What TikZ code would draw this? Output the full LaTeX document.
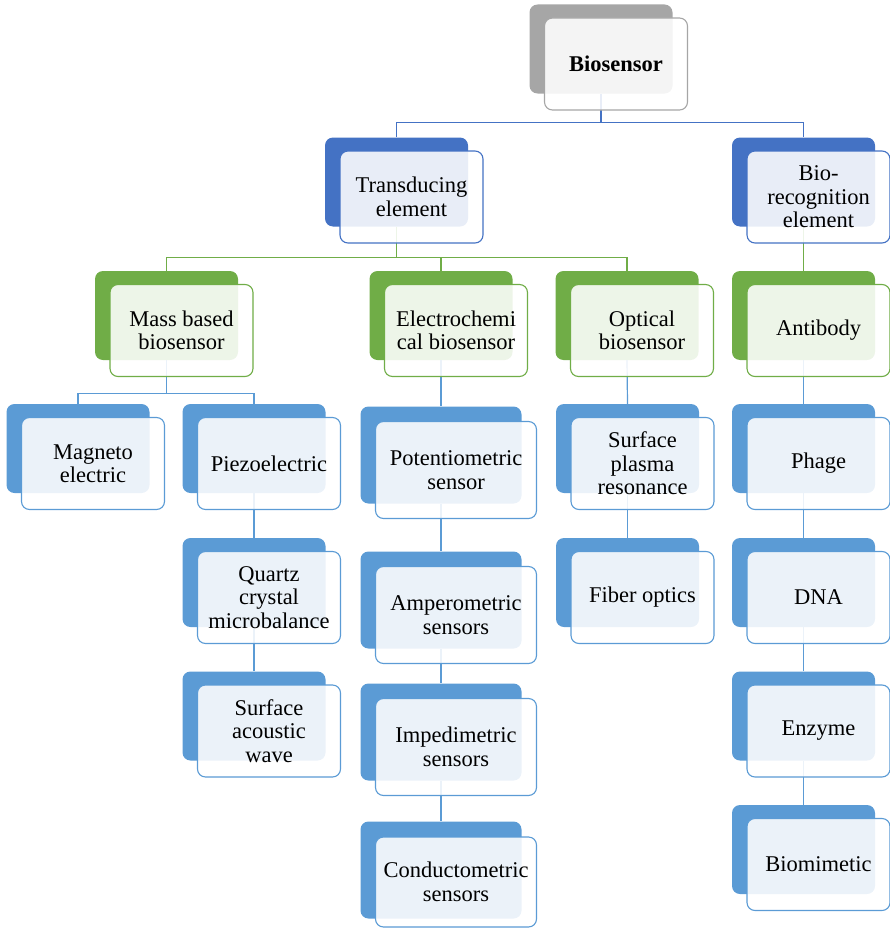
\documentclass[tikz,border=0pt]{standalone}
\usepackage{fontspec}
\setmainfont{Liberation Serif}
\usepackage{tikz}
\usetikzlibrary{calc}
\definecolor{cGray}{RGB}{166,166,166}
\definecolor{cDark}{RGB}{68,114,196}
\definecolor{cGreen}{RGB}{112,173,71}
\definecolor{cLight}{RGB}{91,155,213}
\newcommand{\boxfont}{\fontsize{22.5}{23.5}\selectfont}

\begin{document}
\begin{tikzpicture}[x=1pt, y=-1pt,
  plate/.style={rounded corners=8pt, fill=#1, minimum width=143pt, minimum height=89pt, inner sep=0pt},
  card/.style={rounded corners=8pt, draw=#1, line width=1.1pt, fill=white, fill opacity=0.88, text opacity=1,
    minimum width=143pt, minimum height=92pt, inner sep=2pt, align=center, font=\boxfont},
  wide/.style={minimum width=161pt, minimum height=97pt},
  link/.style={draw=#1, line width=1.2pt}]
\useasboundingbox (0,0) rectangle (889,934);
% back plates
\foreach \n/\x/\y/\c in {bios/601/49/cGray, trans/396.5/182/cDark, recog/803.5/182/cDark,
    mass/166.5/315.5/cGreen, echem/441/315.5/cGreen, optic/627/315.5/cGreen, anti/803.5/315.5/cGreen,
    magnet/78/448.5/cLight, piezo/254/448.5/cLight, spr/627.5/448.5/cLight, phage/803.5/448.5/cLight,
    quartz/254/582.5/cLight, fiber/627.5/582.5/cLight, dna/803.5/582.5/cLight,
    saw/254/716/cLight, enzyme/803.5/716/cLight, biomim/803.5/849.5/cLight}
  \node[plate=\c] (\n-b) at (\x,\y) {};
\foreach \n/\y in {potent/455, amper/600, imped/732, conduct/870}
  \node[plate=cLight, wide] (\n-b) at (441,\y) {};
% connectors
\draw[link=cDark] (bios-b.south) -- ++(0,29) coordinate (j1);
\draw[link=cDark] (trans-b.north) |- (j1) -| (recog-b.north);
\draw[link=cGreen] (trans-b.south) -- ++(0,31) coordinate (j2);
\draw[link=cGreen] (mass-b.north) |- (j2) -| (optic-b.north);
\draw[link=cGreen] (echem-b.north) -- (echem-b.north |- j2);
\draw[link=cGreen] (recog-b.south) -- (anti-b.north);
\draw[link=cLight] (mass-b.south) -- ++(0,33) coordinate (j3);
\draw[link=cLight] (magnet-b.north) |- (j3) -| (piezo-b.north);
\foreach \a/\b in {piezo/quartz, quartz/saw, echem/potent, potent/amper, amper/imped, imped/conduct,
    optic/spr, spr/fiber, anti/phage, phage/dna, dna/enzyme, enzyme/biomim}
  \draw[link=cLight] (\a-b.south) -- (\b-b.north);
% front cards
\foreach \n/\c/\t in {bios/cGray/{\textbf{Biosensor}}, trans/cDark/{Transducing\\element},
    recog/cDark/{Bio-\\recognition\\element}, mass/cGreen/{Mass based\\biosensor},
    echem/cGreen/{Electrochemi\\cal biosensor}, optic/cGreen/{Optical\\biosensor}, anti/cGreen/Antibody,
    magnet/cLight/{Magneto\\electric}, piezo/cLight/Piezoelectric, quartz/cLight/{Quartz\\crystal\\microbalance},
    saw/cLight/{Surface\\acoustic\\wave}, spr/cLight/{Surface\\plasma\\resonance}, fiber/cLight/{Fiber optics},
    phage/cLight/Phage, dna/cLight/DNA, enzyme/cLight/Enzyme, biomim/cLight/Biomimetic}
  \node[card=\c] (\n) at ($(\n-b)+(15,15)$) {\t};
\foreach \n/\t in {potent/{Potentiometric\\sensor}, amper/{Amperometric\\sensors},
    imped/{Impedimetric\\sensors}}
  \node[card=cLight, wide] (\n) at ($(\n-b)+(15,15)$) {\t};
\node[card=cLight, wide, minimum height=90pt] (conduct) at ($(conduct-b)+(15,12)$) {Conductometric\\sensors};
\end{tikzpicture}
\end{document}
